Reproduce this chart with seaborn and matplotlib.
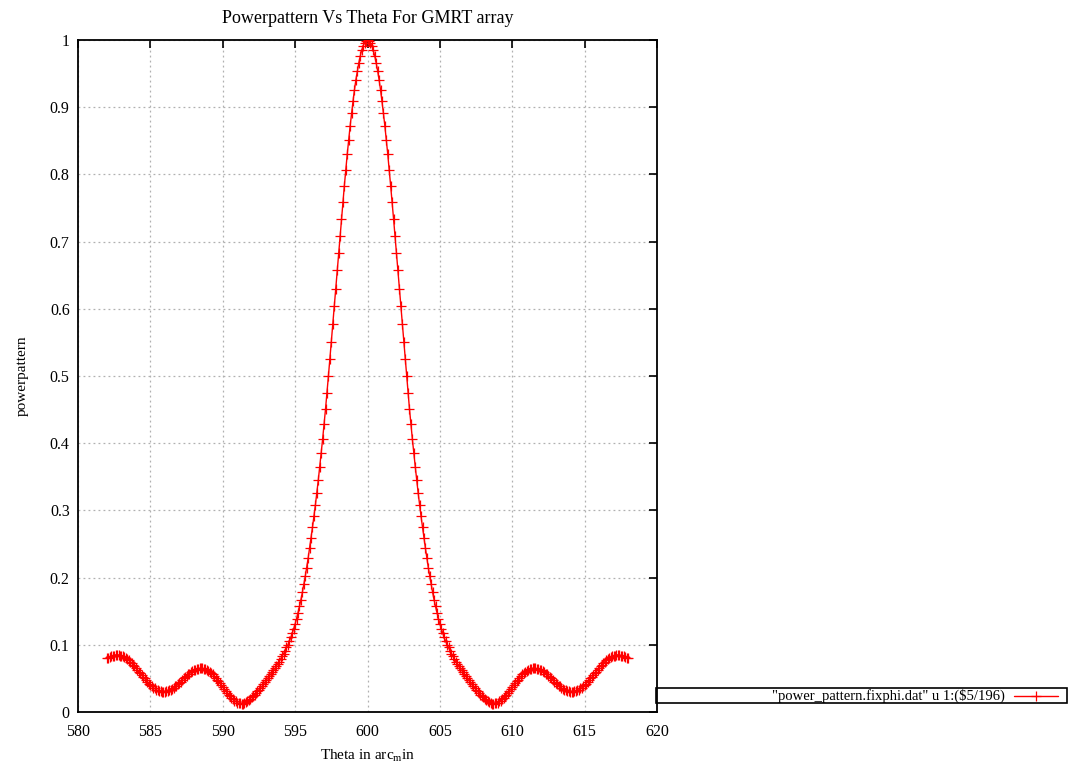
import numpy as np
import pandas as pd
import matplotlib
matplotlib.use("Agg")
import matplotlib.pyplot as plt
import seaborn as sns
from matplotlib.patches import Rectangle
from matplotlib.lines import Line2D

theta_start = 582.0
theta_step = 0.1

power_left = [  # 582.0 .. 599.9
    0.080, 0.081, 0.082, 0.083, 0.084, 0.084, 0.085, 0.085, 0.085, 0.084,
    0.084, 0.083, 0.082, 0.080, 0.079, 0.077, 0.075, 0.073, 0.070, 0.068,
    0.066, 0.063, 0.060, 0.058, 0.055, 0.052, 0.050, 0.047, 0.045, 0.042,
    0.040, 0.038, 0.036, 0.035, 0.033, 0.032, 0.031, 0.031, 0.030, 0.030,
    0.030, 0.031, 0.031, 0.032, 0.033, 0.034, 0.036, 0.038, 0.039, 0.041,
    0.043, 0.045, 0.048, 0.050, 0.052, 0.054, 0.056, 0.057, 0.059, 0.061,
    0.062, 0.063, 0.064, 0.064, 0.065, 0.065, 0.065, 0.064, 0.064, 0.063,
    0.061, 0.060, 0.058, 0.056, 0.053, 0.051, 0.048, 0.046, 0.043, 0.040,
    0.037, 0.034, 0.031, 0.029, 0.026, 0.024, 0.021, 0.019, 0.017, 0.016,
    0.014, 0.013, 0.013, 0.012, 0.012, 0.013, 0.015, 0.016, 0.018, 0.020,
    0.022, 0.024, 0.026, 0.028, 0.031, 0.033, 0.036, 0.038, 0.041, 0.044,
    0.047, 0.050, 0.053, 0.056, 0.059, 0.062, 0.065, 0.068, 0.072, 0.075,
    0.079, 0.083, 0.087, 0.091, 0.096, 0.100, 0.105, 0.111, 0.117, 0.124,
    0.131, 0.139, 0.148, 0.157, 0.167, 0.178, 0.190, 0.202, 0.215, 0.229,
    0.244, 0.259, 0.275, 0.291, 0.308, 0.326, 0.345, 0.365, 0.385, 0.406,
    0.428, 0.451, 0.475, 0.500, 0.525, 0.551, 0.577, 0.604, 0.630, 0.657,
    0.683, 0.709, 0.734, 0.759, 0.783, 0.807, 0.830, 0.851, 0.872, 0.891,
    0.909, 0.926, 0.941, 0.954, 0.966, 0.976, 0.985, 0.991, 0.996, 0.999,
]
power_right = [  # 600.0 .. 618.0
    1.000, 0.999, 0.996, 0.991, 0.985, 0.976, 0.966, 0.954, 0.941, 0.926,
    0.909, 0.891, 0.872, 0.851, 0.830, 0.807, 0.783, 0.759, 0.734, 0.709,
    0.683, 0.657, 0.630, 0.604, 0.577, 0.551, 0.525, 0.500, 0.475, 0.451,
    0.428, 0.406, 0.385, 0.365, 0.345, 0.326, 0.308, 0.291, 0.275, 0.259,
    0.244, 0.229, 0.215, 0.202, 0.190, 0.178, 0.167, 0.157, 0.148, 0.139,
    0.131, 0.124, 0.117, 0.111, 0.105, 0.100, 0.096, 0.091, 0.087, 0.083,
    0.079, 0.075, 0.072, 0.068, 0.065, 0.062, 0.059, 0.056, 0.053, 0.050,
    0.047, 0.044, 0.041, 0.038, 0.036, 0.033, 0.031, 0.028, 0.026, 0.024,
    0.022, 0.020, 0.018, 0.016, 0.015, 0.013, 0.012, 0.012, 0.013, 0.013,
    0.014, 0.016, 0.017, 0.019, 0.021, 0.024, 0.026, 0.029, 0.031, 0.034,
    0.037, 0.040, 0.043, 0.046, 0.048, 0.051, 0.053, 0.056, 0.058, 0.060,
    0.061, 0.063, 0.064, 0.064, 0.065, 0.065, 0.065, 0.064, 0.064, 0.063,
    0.062, 0.061, 0.059, 0.057, 0.056, 0.054, 0.052, 0.050, 0.048, 0.045,
    0.043, 0.041, 0.039, 0.038, 0.036, 0.034, 0.033, 0.032, 0.031, 0.031,
    0.030, 0.030, 0.030, 0.031, 0.031, 0.032, 0.033, 0.035, 0.036, 0.038,
    0.040, 0.042, 0.045, 0.047, 0.050, 0.052, 0.055, 0.058, 0.060, 0.063,
    0.066, 0.068, 0.070, 0.073, 0.075, 0.077, 0.079, 0.080, 0.082, 0.083,
    0.084, 0.084, 0.085, 0.085, 0.085, 0.084, 0.084, 0.083, 0.082, 0.081,
    0.080,
]

x_ticks = [580, 585, 590, 595, 600, 605, 610, 615, 620]
y_ticks = [0.0, 0.1, 0.2, 0.3, 0.4, 0.5, 0.6, 0.7, 0.8, 0.9, 1.0]
y_tick_labels = ["0", "0.1", "0.2", "0.3", "0.4", "0.5", "0.6", "0.7", "0.8", "0.9", "1"]

title_text = "Powerpattern Vs Theta For GMRT array"
x_label = "Theta in arc$_{\\mathregular{m}}$in"
y_label = "powerpattern"
legend_label = '"power_pattern.fixphi.dat" u 1:(\\$5/196)'

# ---- build table ----
power = power_left + power_right
theta = np.round(theta_start + theta_step * np.arange(len(power)), 1)
df = pd.DataFrame({"theta": theta, "power": power})

# ---- styling ----
sns.set_theme(style="white")
plt.rcParams["font.family"] = ["Liberation Serif", "DejaVu Serif"]
plt.rcParams["mathtext.fontset"] = "custom"
plt.rcParams["mathtext.rm"] = "Liberation Serif"
plt.rcParams["mathtext.it"] = "Liberation Serif"
plt.rcParams["mathtext.default"] = "regular"

fig = plt.figure(figsize=(10.69, 7.65), dpi=100)
ax = fig.add_axes([78 / 1069, 1 - 712 / 765, (657 - 78) / 1069, (712 - 40) / 765])

sns.lineplot(data=df, x="theta", y="power", ax=ax, color="#ff0000",
             linewidth=1.0, marker="+", markersize=7, markeredgewidth=0.9,
             markeredgecolor="#ff0000", legend=False, zorder=3)

ax.set_xlim(580, 620)
ax.set_ylim(0, 1)
ax.set_xticks(x_ticks)
ax.set_xticklabels([str(t) for t in x_ticks])
ax.set_yticks(y_ticks)
ax.set_yticklabels(y_tick_labels)
ax.tick_params(axis="both", which="both", direction="in", length=6, width=1.2,
               top=True, right=True, labelsize=11.5, color="black",
               labelcolor="black")
ax.tick_params(axis="x", pad=9)
ax.tick_params(axis="y", pad=6)
ax.grid(True, color="#b0b0b0", linestyle=(0, (1.5, 2.5)), linewidth=0.9)
for sp in ax.spines.values():
    sp.set_color("black")
    sp.set_linewidth(1.3)
    sp.set_visible(True)

ax.set_title(title_text, fontsize=13, color="black", pad=12)
ax.set_xlabel(x_label, fontsize=11, color="black", labelpad=5)
ax.set_ylabel(y_label, fontsize=11, color="black", labelpad=15)

# legend box in gnuplot style (outside, to the right of the plot)
W, H = 1069, 765
fig.patches.append(Rectangle((656 / W, 1 - 703 / H), (1067 - 656) / W, 15 / H,
                             transform=fig.transFigure, fill=False,
                             edgecolor="black", linewidth=1.2))
fig.text(1005 / W, 1 - 695.5 / H, legend_label, ha="right", va="center",
         fontsize=10.5, color="black")
fig.lines.append(Line2D([1014 / W, 1058 / W], [1 - 695.5 / H, 1 - 695.5 / H],
                        transform=fig.transFigure, color="#ff0000", linewidth=1.0))
fig.lines.append(Line2D([1036 / W], [1 - 695.5 / H], transform=fig.transFigure,
                        color="#ff0000", marker="+", markersize=7,
                        markeredgewidth=0.9, linestyle="none"))

fig.savefig("out.png", dpi=100)
